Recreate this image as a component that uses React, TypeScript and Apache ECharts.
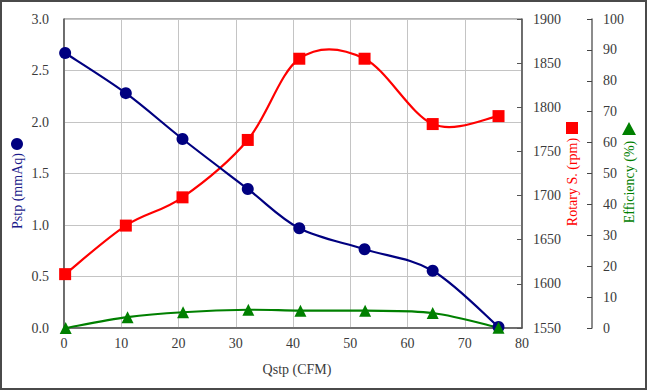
import React, { useEffect, useRef } from "react";
import * as echarts from "echarts";

const pstpData: [number, number][] = [
  [0.2, 2.67], [10.8, 2.28], [20.7, 1.835], [32.1, 1.35], [41.1, 0.968], [52.5, 0.764], [64.4, 0.556], [75.9, 0.01],
];
const rpmData: [number, number][] = [
  [0.2, 1611], [10.8, 1666], [20.7, 1698], [32.1, 1763], [41.1, 1855], [52.5, 1855], [64.4, 1781], [75.9, 1790],
];
const effData: [number, number][] = [
  [0.3, 0], [11.1, 3.5], [20.8, 5.1], [32.2, 5.9], [41.3, 5.6], [52.6, 5.6], [64.4, 4.85], [75.9, 0.1],
];

const FONT = "Liberation Serif";

// Excel-like smoothed line drawn segment by segment through the axes' scales
function smoothSeries(data: [number, number][], yAxisIndex: number, color: string, z: number) {
  return {
    type: "custom",
    yAxisIndex,
    data,
    encode: { x: 0, y: 1 },
    z,
    silent: true,
    clip: false,
    renderItem: (params: any, api: any) => {
      const i = params.dataIndex;
      if (i >= data.length - 1) return { type: "group", children: [] };
      const p0 = api.coord(data[Math.max(0, i - 1)]);
      const p1 = api.coord(data[i]);
      const p2 = api.coord(data[i + 1]);
      const p3 = api.coord(data[Math.min(data.length - 1, i + 2)]);
      const t = 1 / 6;
      return {
        type: "bezierCurve",
        shape: {
          x1: p1[0], y1: p1[1],
          cpx1: p1[0] + (p2[0] - p0[0]) * t, cpy1: p1[1] + (p2[1] - p0[1]) * t,
          cpx2: p2[0] - (p3[0] - p1[0]) * t, cpy2: p2[1] - (p3[1] - p1[1]) * t,
          x2: p2[0], y2: p2[1],
        },
        style: { stroke: color, lineWidth: 2.2, fill: "none" },
      };
    },
  };
}

export default function App() {
  const ref = useRef<HTMLDivElement>(null);
  useEffect(() => {
    document.body.style.margin = "0";
    const chart = echarts.init(ref.current!, null, { renderer: "svg" });
    const label = { color: "#3a3a3a", fontFamily: FONT, fontSize: 14 };
    const nameFont = `14px ${FONT}`;
    chart.setOption({
      animation: false,
      backgroundColor: "#ffffff",
      textStyle: { fontFamily: FONT },
      grid: { left: 64, top: 19, width: 458, height: 309, show: true, borderColor: "#666", borderWidth: 1 },
      xAxis: {
        type: "value", min: 0, max: 80, interval: 10,
        axisLine: { show: true, lineStyle: { color: "#555", width: 1.5 } },
        axisTick: { show: false },
        axisLabel: { ...label, margin: 8 },
        splitLine: { show: true, lineStyle: { color: "#c4c4c4", width: 1 } },
      },
      yAxis: [
        {
          type: "value", min: 0, max: 3, interval: 0.5, position: "left",
          axisLine: { show: true, lineStyle: { color: "#555", width: 1.5 } },
          axisTick: { show: false },
          axisLabel: { ...label, margin: 15, formatter: (v: number) => v.toFixed(1) },
          splitLine: { show: true, lineStyle: { color: "#c4c4c4", width: 1 } },
        },
        {
          type: "value", min: 1550, max: 1900, interval: 50, position: "right",
          axisLine: { show: true, lineStyle: { color: "#555", width: 1.5 } },
          axisTick: { show: true, inside: true, length: 5, lineStyle: { color: "#555" } },
          axisLabel: { ...label, margin: 11, formatter: (v: number) => String(v) },
          splitLine: { show: false },
        },
        {
          type: "value", min: 0, max: 100, interval: 10, position: "right", offset: 70,
          axisLine: { show: true, lineStyle: { color: "#666", width: 1.5 } },
          axisTick: { show: true, inside: true, length: 5, lineStyle: { color: "#444" } },
          axisLabel: { ...label, margin: 11, formatter: (v: number) => String(v) },
          splitLine: { show: false },
        },
      ],
      graphic: [
        { type: "rect", shape: { x: 1, y: 1, width: 645, height: 388 }, style: { fill: "none", stroke: "#4a4a4a", lineWidth: 2 }, silent: true },
        { type: "text", x: 297, y: 369, style: { text: "Qstp (CFM)", fill: "#3a3a3a", font: nameFont, align: "center", verticalAlign: "middle" } },
        { type: "text", x: 17, y: 191, rotation: Math.PI / 2, style: { text: "Pstp (mmAq)", fill: "#1a1a8a", font: nameFont, align: "center", verticalAlign: "middle" } },
        { type: "circle", shape: { cx: 17, cy: 144, r: 6 }, style: { fill: "#000080" } },
        { type: "text", x: 572, y: 182, rotation: Math.PI / 2, style: { text: "Rotary S. (rpm)", fill: "#ff0000", font: nameFont, align: "center", verticalAlign: "middle" } },
        { type: "rect", shape: { x: 566, y: 122, width: 12, height: 12 }, style: { fill: "#ff0000" } },
        { type: "text", x: 629, y: 182, rotation: Math.PI / 2, style: { text: "Efficiency (%)", fill: "#008000", font: nameFont, align: "center", verticalAlign: "middle" } },
        { type: "polygon", shape: { points: [[629, 122], [622, 135], [636, 135]] }, style: { fill: "#008000" } },
      ],
      series: [
        smoothSeries(rpmData, 1, "#ff0000", 2),
        smoothSeries(pstpData, 0, "#000080", 3),
        smoothSeries(effData, 2, "#008000", 4),
        {
          name: "Rotary", type: "scatter", yAxisIndex: 1, data: rpmData,
          symbol: "rect", symbolSize: 12, itemStyle: { color: "#ff0000", opacity: 1 }, z: 5,
        },
        {
          name: "Pstp", type: "scatter", yAxisIndex: 0, data: pstpData,
          symbol: "circle", symbolSize: 12, itemStyle: { color: "#000080", opacity: 1 }, z: 6,
        },
        {
          name: "Eff", type: "scatter", yAxisIndex: 2, data: effData,
          symbol: "triangle", symbolSize: 12, itemStyle: { color: "#008000", opacity: 1 }, z: 7,
        },
      ],
    });
    return () => chart.dispose();
  }, []);
  return <div ref={ref} style={{ width: 647, height: 390 }} />;
}
